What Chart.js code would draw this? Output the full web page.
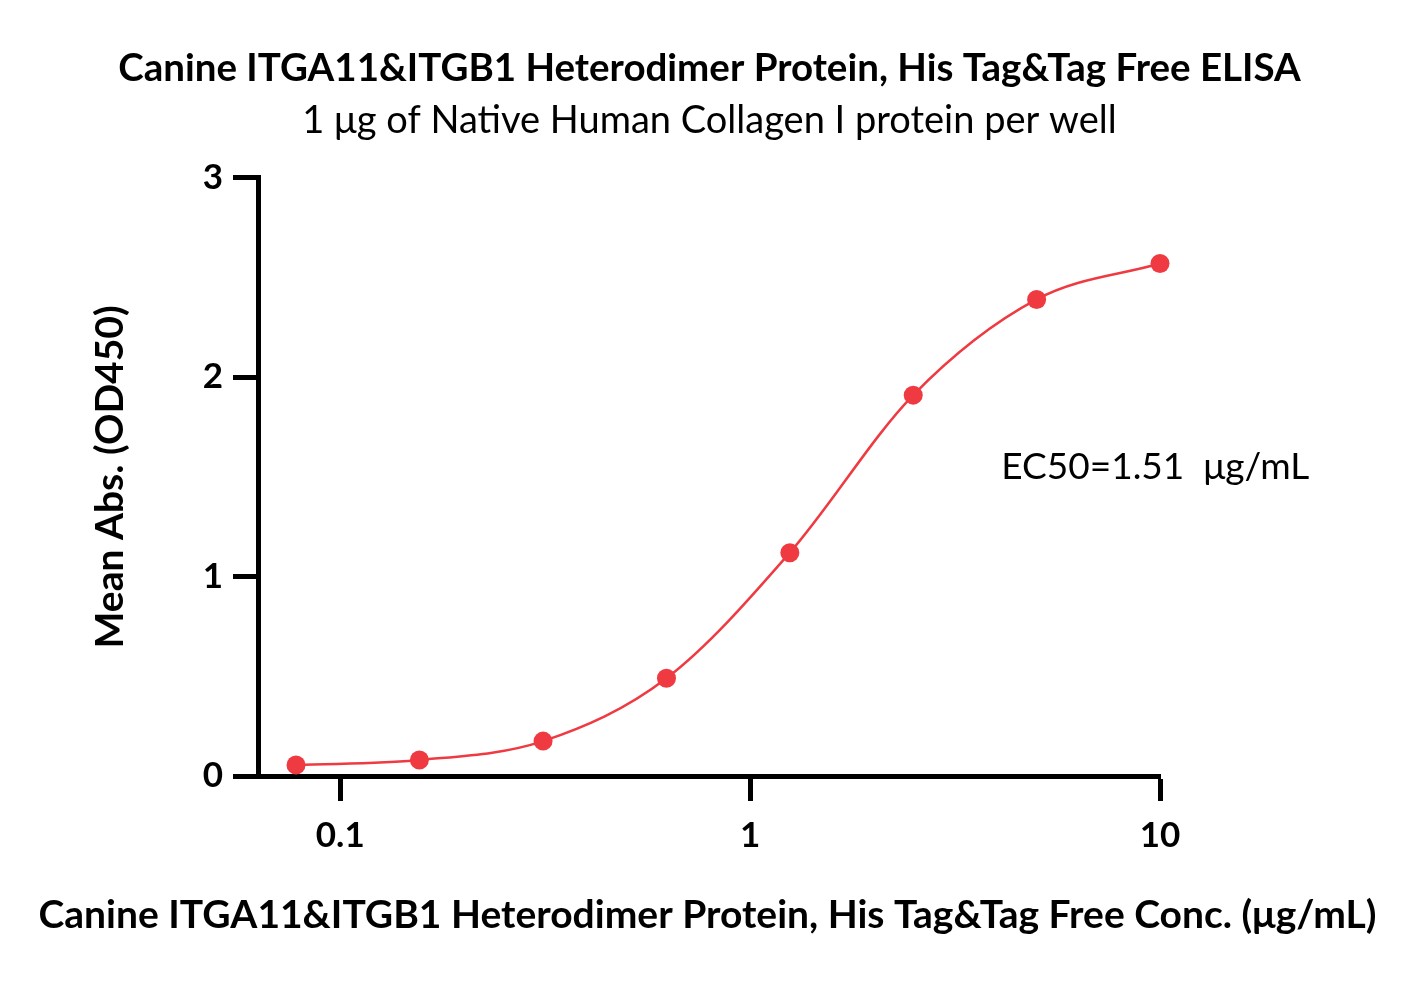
<!DOCTYPE html>
<html>
<head>
<meta charset="utf-8">
<script src="https://cdn.jsdelivr.net/npm/chart.js@4"></script>
<style>
  html, body { margin: 0; padding: 0; background: #fff; }
  #wrap { width: 1419px; height: 981px; }
</style>
</head>
<body>
<div id="wrap"><canvas id="elisa"></canvas></div>
<script>
// concentrations (ug/mL) and mean OD450
const conc = [0.078, 0.156, 0.3125, 0.625, 1.25, 2.5, 5, 10];
const meanAbs = [0.055, 0.08, 0.175, 0.49, 1.12, 1.91, 2.39, 2.57];
const xTicks = [0.1, 1, 10];
const yTicks = [0, 1, 2, 3];

const red = '#ef3a42';
const fam = 'Lato, "Open Sans", sans-serif';
const xTitle = 'Canine ITGA11&ITGB1 Heterodimer Protein, His Tag&Tag Free Conc. (\u03bcg/mL)';

// EC50 note and the long x axis title (scale titles get squeezed to the chart width)
const extraText = {
    id: 'extraText',
    afterDraw(chart) {
        const ctx = chart.ctx;
        const x = chart.scales.x.getPixelForValue(4.1);
        const y = chart.scales.y.getPixelForValue(1.55);
        ctx.save();
        ctx.fillStyle = '#000';
        ctx.textBaseline = 'middle';
        ctx.font = '37px ' + fam;
        ctx.textAlign = 'left';
        ctx.fillText('EC50=1.51  \u03bcg/mL', x, y);
        ctx.font = 'bold 39px ' + fam;
        ctx.textAlign = 'center';
        ctx.fillText(xTitle, chart.width / 2 - 2, 915);
        ctx.restore();
    }
};

const elisa = new Chart(
    document.getElementById('elisa'),
    config = {
    type: 'line',
    data: {
        datasets: [{
            data: conc.map((c, i) => ({x: c, y: meanAbs[i]})),
            borderColor: red,
            backgroundColor: red,
            borderWidth: 2.5,
            pointRadius: 9.5,
            pointHoverRadius: 9.5,
            pointBorderWidth: 0,
            cubicInterpolationMode: 'monotone',
            clip: false,
            fill: false
        }]
    },
    options: {
        responsive: true,
        maintainAspectRatio: false,
        animation: false,
        layout: {
            padding: 0
        },
        plugins: {
            legend: {display: false},
            tooltip: {enabled: false},
            title: {
                display: true,
                text: 'Canine ITGA11&ITGB1 Heterodimer Protein, His Tag&Tag Free ELISA',
                color: '#000',
                font: {family: fam, size: 38.5, weight: 'bold', lineHeight: 1.2},
                padding: {top: 45, bottom: 0}
            },
            subtitle: {
                display: true,
                text: '1 \u03bcg of Native Human Collagen I protein per well',
                color: '#000',
                font: {family: fam, size: 38, weight: 'normal', lineHeight: 1.2},
                padding: {top: 7, bottom: 34}
            }
        },
        scales: {
            x: {
                type: 'logarithmic',
                min: 0.063,
                max: 10,
                afterBuildTicks: s => { s.ticks = xTicks.map(v => ({value: v})); },
                afterFit: s => { s.height = 205; },
                border: {color: '#000', width: 5},
                grid: {drawOnChartArea: false, drawTicks: true, tickLength: 25, tickWidth: 5, tickColor: '#000'},
                ticks: {
                    color: '#000',
                    padding: 14,
                    maxRotation: 0,
                    font: {family: fam, size: 35, weight: 'bold'},
                    callback: v => String(v)
                }
            },
            y: {
                min: 0,
                max: 3,
                afterBuildTicks: s => { s.ticks = yTicks.map(v => ({value: v})); },
                afterFit: s => { s.width = 258; },
                border: {color: '#000', width: 5},
                grid: {drawOnChartArea: false, drawTicks: true, tickLength: 25, tickWidth: 5, tickColor: '#000'},
                ticks: {
                    color: '#000',
                    padding: 10,
                    font: {family: fam, size: 35, weight: 'bold'}
                },
                title: {
                    display: true,
                    text: 'Mean Abs. (OD450)',
                    color: '#000',
                    font: {family: fam, size: 39, weight: 'bold', lineHeight: 1.2},
                    padding: {top: 87, bottom: 0}
                }
            },
            // empty right-hand box so the titles centre on the whole canvas
            yPad: {
                position: 'right',
                min: 0,
                max: 3,
                afterFit: s => { s.width = 259; },
                grid: {display: false},
                border: {display: false},
                ticks: {display: false}
            }
        }
    },
    plugins: [extraText]
    }
);
</script>
</body>
</html>
